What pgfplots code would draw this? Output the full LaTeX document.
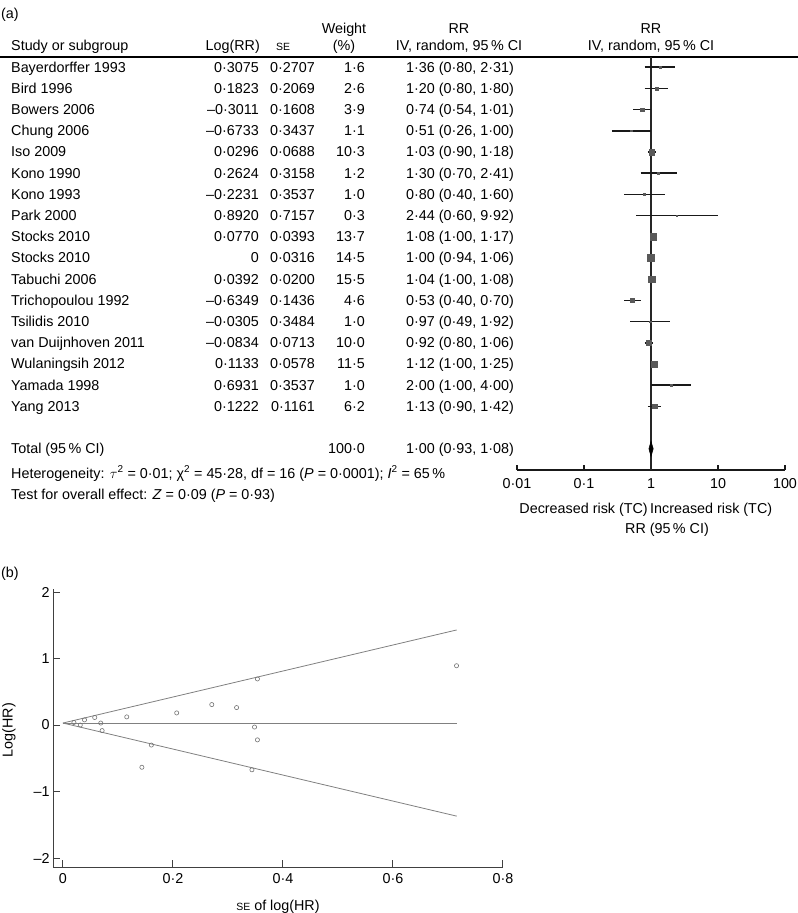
\documentclass[border=0pt]{standalone}
\usepackage{fontspec}
\setmainfont{Liberation Sans}
\usepackage{pgfplots}
\usepackage{pgfplotstable}
\pgfplotsset{compat=1.18}
\newcommand{\fs}{\fontsize{14.4}{17}\selectfont}
\newcommand{\se}{{\fontsize{10.5}{12}\selectfont SE}}
\pgfplotstableread{
row rr lo hi w
1 1.36 0.80 2.31 1.6
2 1.20 0.80 1.80 2.6
3 0.74 0.54 1.01 3.9
4 0.51 0.26 1.00 1.1
5 1.03 0.90 1.18 10.3
6 1.30 0.70 2.41 1.2
7 0.80 0.40 1.60 1.0
8 2.44 0.60 9.92 0.3
9 1.08 1.00 1.17 13.7
10 1.00 0.94 1.06 14.5
11 1.04 1.00 1.08 15.5
12 0.53 0.40 0.70 4.6
13 0.97 0.49 1.92 1.0
14 0.92 0.80 1.06 10.0
15 1.12 1.00 1.25 11.5
16 2.00 1.00 4.00 1.0
17 1.13 0.90 1.42 6.2
}\forestdata
\pgfplotstableread{
se lrr
0.2707 0.3075
0.2069 0.1823
0.1608 -0.3011
0.3437 -0.6733
0.0688 0.0296
0.3158 0.2624
0.3537 -0.2231
0.7157 0.8920
0.0393 0.0770
0.0316 0
0.0200 0.0392
0.1436 -0.6349
0.3484 -0.0305
0.0713 -0.0834
0.0578 0.1133
0.3537 0.6931
0.1161 0.1222
}\funneldata
\newcommand{\trow}[6]{%
  \pgfmathsetmacro{\yy}{67+21.2*(#1-1)+5}%
  \node[anchor=base west] at (11,\yy) {#2};
  \node[anchor=base east] at (259,\yy) {#3};
  \node[anchor=base east] at (315,\yy) {#4};
  \node[anchor=base east] at (365,\yy) {#5};
  \node[anchor=base west] at (406,\yy) {#6};
}
\begin{document}
\begin{tikzpicture}[font=\fs]
\path[use as bounding box] (0,0) rectangle (798bp,-913bp);
\begin{scope}[x=1bp,y=-1bp, every node/.style={inner sep=0pt, font=\fs}]
\node[anchor=base west] at (1,18) {(a)};
\node[anchor=base] at (344,33) {Weight};
\node[anchor=base] at (459,33) {RR};
\node[anchor=base] at (651,33) {RR};
\node[anchor=base west] at (11,50) {Study or subgroup};
\node[anchor=base east] at (260,50) {Log(RR)};
\node[anchor=base] at (283,50) {\se};
\node[anchor=base] at (344,50) {(\%)};
\node[anchor=base] at (459,50) {IV, random, 95\,\% CI};
\node[anchor=base] at (651,50) {IV, random, 95\,\% CI};
\draw[line width=2bp] (0,57) -- (798,57);
\trow{1}{Bayerdorffer 1993}{0·3075}{0·2707}{1·6}{1·36 (0·80, 2·31)}
\trow{2}{Bird 1996}{0·1823}{0·2069}{2·6}{1·20 (0·80, 1·80)}
\trow{3}{Bowers 2006}{–0·3011}{0·1608}{3·9}{0·74 (0·54, 1·01)}
\trow{4}{Chung 2006}{–0·6733}{0·3437}{1·1}{0·51 (0·26, 1·00)}
\trow{5}{Iso 2009}{0·0296}{0·0688}{10·3}{1·03 (0·90, 1·18)}
\trow{6}{Kono 1990}{0·2624}{0·3158}{1·2}{1·30 (0·70, 2·41)}
\trow{7}{Kono 1993}{–0·2231}{0·3537}{1·0}{0·80 (0·40, 1·60)}
\trow{8}{Park 2000}{0·8920}{0·7157}{0·3}{2·44 (0·60, 9·92)}
\trow{9}{Stocks 2010}{0·0770}{0·0393}{13·7}{1·08 (1·00, 1·17)}
\trow{10}{Stocks 2010}{0}{0·0316}{14·5}{1·00 (0·94, 1·06)}
\trow{11}{Tabuchi 2006}{0·0392}{0·0200}{15·5}{1·04 (1·00, 1·08)}
\trow{12}{Trichopoulou 1992}{–0·6349}{0·1436}{4·6}{0·53 (0·40, 0·70)}
\trow{13}{Tsilidis 2010}{–0·0305}{0·3484}{1·0}{0·97 (0·49, 1·92)}
\trow{14}{van Duijnhoven 2011}{–0·0834}{0·0713}{10·0}{0·92 (0·80, 1·06)}
\trow{15}{Wulaningsih 2012}{0·1133}{0·0578}{11·5}{1·12 (1·00, 1·25)}
\trow{16}{Yamada 1998}{0·6931}{0·3537}{1·0}{2·00 (1·00, 4·00)}
\trow{17}{Yang 2013}{0·1222}{0·1161}{6·2}{1·13 (0·90, 1·42)}
\node[anchor=base west] at (11,453.6) {Total (95\,\% CI)};
\node[anchor=base east] at (365,453.6) {100·0};
\node[anchor=base west] at (406,453.6) {1·00 (0·93, 1·08)};
\node[anchor=base west] at (11,478) {Heterogeneity: $\tau$\textsuperscript{2} = 0·01; χ\textsuperscript{2} = 45·28, df = 16 (\textit{P} = 0·0001); \textit{I}\textsuperscript{2} = 65\,\%};
\node[anchor=base west] at (11,499) {Test for overall effect: \textit{Z} = 0·09 (\textit{P} = 0·93)};
\node[anchor=base east] at (648,513) {Decreased risk (TC)};
\node[anchor=base west] at (650,513) {Increased risk (TC)};
\node[anchor=base] at (667,533) {RR (95\,\% CI)};
\node[anchor=base west] at (1,577) {(b)};
\node[rotate=90] at (9,730) {Log(HR)};
\node[anchor=base] at (278,910) {\se{} of log(HR)};
\end{scope}

\begin{axis}[
  at={(517bp,-470bp)}, anchor=south west, scale only axis,
  width=268bp, height=412.8bp,
  xmode=log, xmin=0.01, xmax=100, xminorticks=false,
  ymin=0.53, ymax=20, y dir=reverse, ytick=\empty,
  axis x line=bottom, axis y line=none,
  axis line style={-, line width=1.5bp, black!90},
  xtick={0.01,0.1,1,10,100},
  xticklabels={\mbox{0·01},\mbox{0·1},\mbox{1},\mbox{10},\mbox{100}},
  tick align=inside, major tick length=5bp,
  tick style={line width=1.3bp, black!90},
  xticklabel style={font=\fs, yshift=-5bp},
  clip=false,
]
\addplot[black!85, line width=1.3bp, forget plot] coordinates {(1,0.53) (1,20)};
\pgfplotsset{ci/.style={black!90, line width=1.6bp, forget plot}}
\addplot[ci] coordinates {(0.80,1) (2.31,1)};
\addplot[ci] coordinates {(0.80,2) (1.80,2)};
\addplot[ci] coordinates {(0.54,3) (1.01,3)};
\addplot[ci] coordinates {(0.26,4) (1.00,4)};
\addplot[ci] coordinates {(0.90,5) (1.18,5)};
\addplot[ci] coordinates {(0.70,6) (2.41,6)};
\addplot[ci] coordinates {(0.40,7) (1.60,7)};
\addplot[ci] coordinates {(0.60,8) (9.92,8)};
\addplot[ci] coordinates {(1.00,9) (1.17,9)};
\addplot[ci] coordinates {(0.94,10) (1.06,10)};
\addplot[ci] coordinates {(1.00,11) (1.08,11)};
\addplot[ci] coordinates {(0.40,12) (0.70,12)};
\addplot[ci] coordinates {(0.49,13) (1.92,13)};
\addplot[ci] coordinates {(0.80,14) (1.06,14)};
\addplot[ci] coordinates {(1.00,15) (1.25,15)};
\addplot[ci] coordinates {(1.00,16) (4.00,16)};
\addplot[ci] coordinates {(0.90,17) (1.42,17)};
\addplot[scatter, only marks, mark=square*,
  scatter/use mapped color={draw=black!65, fill=black!65},
  visualization depends on={0.88*sqrt(\thisrow{w})\as\msz},
  scatter/@pre marker code/.append style={/tikz/mark size=\msz}]
  table[x=rr, y=row] {\forestdata};
\addplot[fill=black, draw=black, line width=0.5bp] coordinates {(0.93,19) (1.00,18.64) (1.08,19) (1.00,19.36) (0.93,19)};
\end{axis}

\begin{axis}[
  at={(53bp,-867bp)}, anchor=south west, scale only axis,
  width=449.9bp, height=278.3bp,
  xmin=-0.018, xmax=0.8, ymin=-2.135, ymax=2.05,
  axis lines=left, axis line style={-, black!75, line width=0.9bp},
  xtick={0,0.2,0.4,0.6,0.8},
  xticklabels={\mbox{0},\mbox{0·2},\mbox{0·4},\mbox{0·6},\mbox{0·8}},
  ytick={-2,-1,0,1,2},
  yticklabels={\mbox{–2},\mbox{–1},\mbox{0},\mbox{1},\mbox{2}},
  tick align=inside, major tick length=7bp,
  tick style={black!75, line width=0.9bp},
  xticklabel style={font=\fs, yshift=-3bp},
  yticklabel style={font=\fs},
  clip=false,
]
\addplot[black!50, line width=0.8bp] coordinates {(0,0.03) (0.716,1.43)};
\addplot[black!50, line width=0.8bp] coordinates {(0,0.03) (0.716,0.03)};
\addplot[black!50, line width=0.8bp] coordinates {(0,0.03) (0.716,-1.37)};
\addplot[only marks, mark=o, mark size=2.1bp, black!55, line width=0.6bp] table[x=se, y=lrr] {\funneldata};
\end{axis}
\end{tikzpicture}
\end{document}
